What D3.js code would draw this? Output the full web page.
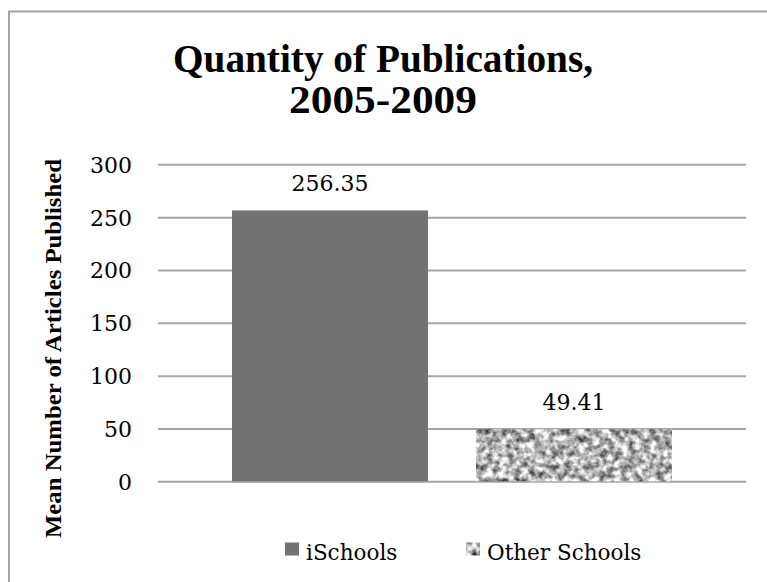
<!DOCTYPE html>
<html>
<head>
<meta charset="utf-8">
<script src="https://cdn.jsdelivr.net/npm/d3@7"></script>
<style>
  html, body { margin: 0; padding: 0; background: #fff; }
  svg { display: block; }
  text { font-family: "DejaVu Serif", serif; fill: #000; }
  text.bold { font-family: "Liberation Serif", "DejaVu Serif", serif; font-weight: bold; }
</style>
</head>
<body>
<svg id="chart" width="767" height="582"></svg>
<script>
const titleLines = ["Quantity of Publications,", "2005-2009"];
const yAxisTitle = "Mean Number of Articles Published";
const seriesNames = ["iSchools", "Other Schools"];
const seriesValues = [256.35, 49.41];
const valueLabels = ["256.35", "49.41"];
const yTicks = [0, 50, 100, 150, 200, 250, 300];

const svg = d3.select("#chart");
const defs = svg.append("defs");

// granite-like texture for "Other Schools"
const f = defs.append("filter").attr("id", "granite")
  .attr("filterUnits", "objectBoundingBox")
  .attr("color-interpolation-filters", "sRGB")
  .attr("x", 0).attr("y", 0).attr("width", 1).attr("height", 1);
f.append("feTurbulence").attr("type", "fractalNoise")
  .attr("baseFrequency", 0.14).attr("numOctaves", 3).attr("seed", 7).attr("result", "noise");
f.append("feColorMatrix").attr("in", "noise").attr("type", "matrix")
  .attr("values", "1.45 0 0 0 -0.02  1.45 0 0 0 -0.02  1.45 0 0 0 -0.02  0 0 0 0 1")
  .attr("result", "gray");
f.append("feComposite").attr("in", "gray").attr("in2", "SourceGraphic").attr("operator", "in");

const fills = ["#737373", "#b5b5b5"];
const filters = [null, "url(#granite)"];

// chart border (left/top visible, right/bottom beyond the image)
svg.append("rect").attr("x", 9).attr("y", 11.5).attr("width", 800).attr("height", 600)
  .attr("fill", "none").attr("stroke", "#a3a3a3").attr("stroke-width", 2);

const plot = { left: 158, right: 746, top: 164.3, bottom: 481.3 };

const y = d3.scaleLinear().domain([0, 300]).range([plot.bottom, plot.top]);
const x = d3.scaleBand().domain(seriesNames).range([plot.left, plot.right])
  .paddingInner(0.1967).paddingOuter(0.3033);

// gridlines + tick labels via axis
const yAxis = d3.axisLeft(y).tickValues(yTicks).tickSize(-(plot.right - plot.left)).tickPadding(26);
const gAxis = svg.append("g").attr("transform", `translate(${plot.left},0)`).call(yAxis);
gAxis.attr("font-family", null).attr("font-size", null);
gAxis.select(".domain").remove();
gAxis.selectAll(".tick line").attr("stroke", "#a6a6a6").attr("stroke-width", 2);
gAxis.selectAll(".tick text")
  .attr("font-size", 22).attr("fill", "#000").attr("dy", "0.36em");

// bars
svg.append("g").selectAll("rect").data(seriesNames).join("rect")
  .attr("x", d => x(d))
  .attr("width", x.bandwidth())
  .attr("y", (d, i) => y(seriesValues[i]))
  .attr("height", (d, i) => y(0) - y(seriesValues[i]))
  .attr("fill", (d, i) => fills[i])
  .attr("filter", (d, i) => filters[i]);

// data labels
svg.append("g").selectAll("text").data(seriesNames).join("text")
  .attr("x", d => x(d) + x.bandwidth() / 2)
  .attr("y", (d, i) => y(seriesValues[i]) - 19)
  .attr("text-anchor", "middle")
  .attr("font-size", 22)
  .text((d, i) => valueLabels[i]);

// title
const titleWidths = [420, 188];
const titleBaselines = [72, 113];
svg.append("g").selectAll("text").data(titleLines).join("text")
  .attr("class", "bold")
  .attr("x", 383).attr("y", (d, i) => titleBaselines[i])
  .attr("text-anchor", "middle")
  .attr("font-size", 39)
  .attr("textLength", (d, i) => titleWidths[i])
  .attr("lengthAdjust", "spacingAndGlyphs")
  .text(d => d);

// y-axis title
svg.append("text")
  .attr("class", "bold")
  .attr("transform", "translate(61,348.5) rotate(-90)")
  .attr("text-anchor", "middle")
  .attr("font-size", 24)
  .attr("textLength", 379).attr("lengthAdjust", "spacingAndGlyphs")
  .text(yAxisTitle);

// legend
const legendX = [285, 466];
const lg = svg.append("g").selectAll("g").data(seriesNames).join("g")
  .attr("transform", (d, i) => `translate(${legendX[i]},0)`);
lg.append("rect").attr("x", 0).attr("y", 542.5).attr("width", 14).attr("height", 13)
  .attr("fill", (d, i) => fills[i]).attr("filter", (d, i) => filters[i]);
lg.append("text").attr("x", 21).attr("y", 560).attr("font-size", 21.5).text(d => d);
</script>
</body>
</html>
